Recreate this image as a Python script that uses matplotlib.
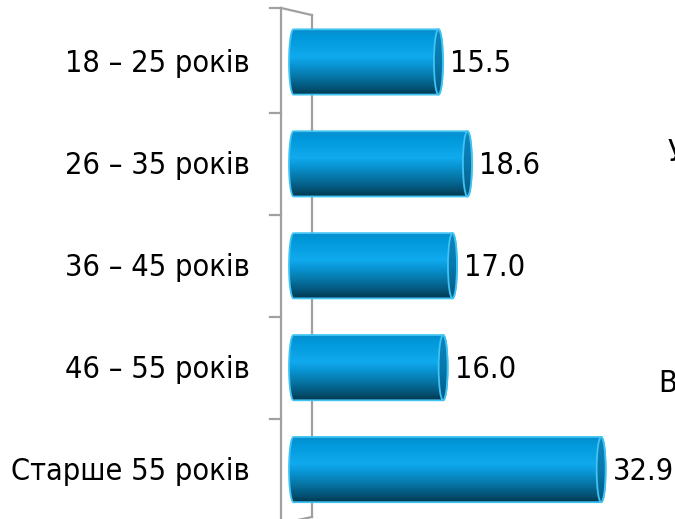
import numpy as np
import matplotlib.pyplot as plt
from matplotlib.colors import LinearSegmentedColormap
from matplotlib.path import Path
from matplotlib.patches import PathPatch, Ellipse

# вікові групи та частка (%)
categories = ['18 – 25 років', '26 – 35 років', '36 – 45 років', '46 – 55 років', 'Старше 55 років']
values = [15.5, 18.6, 17.0, 16.0, 32.9]

# обрізані підписи з сусіднього блоку праворуч
side_texts = ['У', 'В']

plt.rcParams['font.family'] = ['DejaVu Sans']
plt.rcParams['font.stretch'] = 'condensed'

fig = plt.figure(figsize=(6.75, 5.19), dpi=100)
ax = fig.add_axes([0, 0, 1, 1])
ax.set_axis_off()

body_cmap = LinearSegmentedColormap.from_list('body', [
    (0.0, '#0a8ccb'), (0.12, '#0098da'), (0.42, '#10aaee'), (0.55, '#0995d4'),
    (0.75, '#06719f'), (0.92, '#034d6e'), (1.0, '#02384f')])
cap_cmap = LinearSegmentedColormap.from_list('cap', [
    (0.0, '#0a86c0'), (0.5, '#0878ad'), (1.0, '#045a82')])
edge = '#3ec3f3'

n = len(categories)
ys = np.arange(n)[::-1]
h = 0.64      # висота циліндра
a = 0.48      # піввісь торця по x
grad = np.linspace(0, 1, 256).reshape(-1, 1)
t = np.linspace(np.pi / 2, -np.pi / 2, 60)

# рамка (ліва стінка 3D)
fx, bx = -1.34, 1.98
ax.plot([fx, fx], [-0.53, 4.53], color='#a0a0a0', lw=1.6, zorder=1)
ax.plot([bx, bx], [-0.465, 4.46], color='#a0a0a0', lw=1.6, zorder=1)
ax.plot([fx, bx], [4.53, 4.46], color='#a0a0a0', lw=1.6, zorder=1)
ax.plot([fx, bx], [-0.53, -0.465], color='#a0a0a0', lw=1.6, zorder=1)
for ty in [4.53, 3.5, 2.5, 1.5, 0.5, -0.5]:
    ax.plot([-2.5, fx], [ty, ty], color='#a0a0a0', lw=1.6, zorder=1)

fs = 22
for cat, v, yc in zip(categories, values, ys):
    top, bot = yc + h / 2, yc - h / 2
    right = np.column_stack([v + a * np.cos(t), yc + h / 2 * np.sin(t)])
    left = np.column_stack([-a * np.cos(t), yc - h / 2 * np.sin(t)])
    pts = np.vstack([[0, top], right, [0, bot], left, [0, top]])
    body = PathPatch(Path(pts), facecolor='none', edgecolor=edge, lw=1.3, zorder=3)
    ax.add_patch(body)
    im = ax.imshow(grad, cmap=body_cmap, extent=(-a, v + a, bot, top),
                   origin='upper', aspect='auto', zorder=2)
    im.set_clip_path(body)

    cap = Ellipse((v, yc), 2 * a, h, facecolor='none', edgecolor=edge, lw=1.3, zorder=5)
    ax.add_patch(cap)
    im2 = ax.imshow(grad, cmap=cap_cmap, extent=(v - a, v + a, bot, top),
                    origin='upper', aspect='auto', zorder=4)
    im2.set_clip_path(cap)

    ax.text(v + a + 0.75, yc - 0.02, f'{v:.1f}', ha='left', va='center', fontsize=fs, color='black')
    ax.text(-4.65, yc - 0.02, cat, ha='right', va='center', fontsize=fs, color='black')

ax.text(40.05, 3.107, side_texts[0], ha='left', va='center', fontsize=fs)
ax.text(38.98, 0.84, side_texts[1], ha='left', va='center', fontsize=fs)

ax.set_xlim(-31.39, 40.80)
ax.set_ylim(-0.485, 4.608)

fig.savefig('out.png', dpi=100)
